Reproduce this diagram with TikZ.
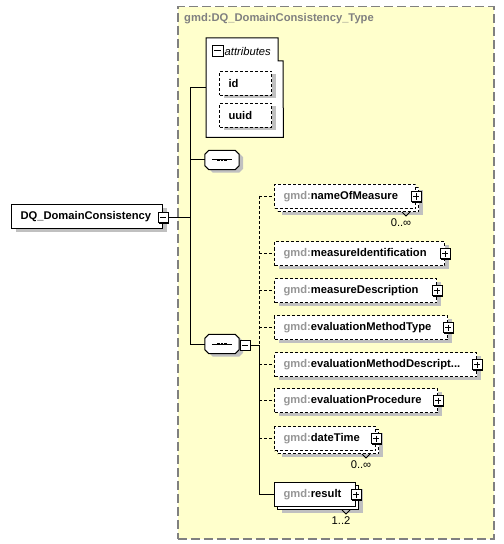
\documentclass[tikz,border=0pt]{standalone}
\usepackage{fontspec}
\setmainfont{Liberation Sans}
\usetikzlibrary{calc}
\definecolor{typeyellow}{RGB}{255,255,204}
\definecolor{gmdgray}{RGB}{150,150,150}
\definecolor{titlegray}{RGB}{128,128,128}
\definecolor{shadowgray}{RGB}{192,192,192}
\newcommand{\diafont}{\fontsize{11.2bp}{13bp}\selectfont}
\newcommand{\el}[1]{\mbox{{\color{gmdgray}gmd:}#1}}

\tikzset{
  link/.style={line width=1bp},
  optlink/.style={link, dash pattern=on 3bp off 2bp},
  boxshadow/.style={preaction={fill=shadowgray, draw=none, transform canvas={shift={(4bp,-3bp)}}}},
  elembase/.style={draw, fill=white, line width=1bp, anchor=north west, minimum height=24bp,
    inner xsep=9bp, inner ysep=0pt, align=left, font=\diafont\bfseries},
  elem/.style={elembase, boxshadow},
  optelem/.style={elem, dash pattern=on 3bp off 2bp},
  multi/.style={elembase,
    preaction={fill=shadowgray, draw=none, transform canvas={shift={(7bp,-6bp)}}},
    preaction={draw, fill=white, transform canvas={shift={(3bp,-3bp)}}}},
  optmulti/.style={multi, dash pattern=on 3bp off 2bp},
  pmbox/.style={draw, fill=white, line width=1bp, minimum size=10bp, inner sep=0pt,
    preaction={fill=black, draw=none, transform canvas={shift={(1bp,-1bp)}}}},
  minus/.style={pmbox, path picture={
    \draw[line width=1bp] ([xshift=2bp]path picture bounding box.west) -- ([xshift=-2bp]path picture bounding box.east);}},
  plus/.style={pmbox, path picture={
    \draw[line width=1bp] ([xshift=2bp]path picture bounding box.west) -- ([xshift=-2bp]path picture bounding box.east)
      ([yshift=-2bp]path picture bounding box.north) -- ([yshift=2bp]path picture bounding box.south);}},
  seqbox/.style={minimum width=34bp, minimum height=19bp, inner sep=0pt},
  octagon/.style={insert path={([xshift=4bp]#1.north west) -- ([xshift=-4bp]#1.north east) -- ([yshift=-4bp]#1.north east)
    -- ([yshift=4bp]#1.south east) -- ([xshift=-4bp]#1.south east) -- ([xshift=4bp]#1.south west)
    -- ([yshift=4bp]#1.south west) -- ([yshift=-4bp]#1.north west) -- cycle}},
  typebox/.style={draw=titlegray, fill=typeyellow, line width=1.5bp, dash pattern=on 9bp off 4bp,
    anchor=north west, inner sep=0pt},
  occ/.style={font=\diafont, inner sep=0pt},
  vnotch/.style={line width=1bp}
}

\begin{document}
\begin{tikzpicture}[x=1bp,y=-1bp]
  \useasboundingbox (0,0) rectangle (504,544);
  % complex type frame
  \node[typebox, minimum width=316bp, minimum height=532bp] (type) at (177,6) {};
  \node[anchor=west, text=titlegray, font=\diafont\bfseries, inner sep=0pt] (typeT) at ($(type.north west)+(7,13)$) {gmd:DQ\_DomainConsistency\_Type};

  % root element
  \node[elem, minimum width=151bp, text width=133bp] (dq) at (11,204) {\mbox{DQ\_DomainConsistency}};
  \node[minus] (dqM) at ($(dq.east)+(0,1)$) {};

  % attributes
  \node[anchor=north west, minimum width=77bp, minimum height=99bp, inner sep=0pt] (attr) at (206,38) {};
  \draw[link, fill=white] (attr.north west) -- ++(72,0) -- ++(0,23) -- ++(5,0) -- (attr.south east) -- (attr.south west) -- cycle;
  \node[minus, minimum size=11bp] (attrM) at ($(attr.north west)+(11.5,13)$) {};
  \node[anchor=west, font=\diafont\itshape, inner xsep=1bp] (attrT) at (attrM.east) {attributes};
  \node[optelem, minimum width=52bp, text width=34bp] (id) at (219,71) {id};
  \node[optelem, minimum width=52bp, text width=34bp] (uuid) at (219,103) {uuid};

  % sequences
  \node[seqbox] (seq1) at (222,160) {};
  \node[seqbox] (seq2) at (222,344) {};
  \foreach \s in {seq1,seq2} {
    \fill[shadowgray, transform canvas={shift={(4bp,-3bp)}}] [octagon=\s];
    \draw[link, fill=white] [octagon=\s];
    \draw[link] ([xshift=7bp]\s.west) -- ([xshift=-7bp]\s.east);
    \foreach \d in {-3.6,0,3.6}
      \fill ([xshift=\d bp]\s.center) +(-1.3bp,-1.3bp) rectangle +(1.3bp,1.3bp);
  }
  \node[minus] (seq2M) at ($(seq2.east)+(6,1)$) {};

  % child elements
  \node[optmulti, minimum width=141bp, text width=123bp] (nom) at (274,184) {\el{nameOfMeasure}};
  \node[optelem, minimum width=170bp, text width=152bp] (mid) at (274,241) {\el{measureIdentification}};
  \node[optelem, minimum width=162bp, text width=144bp] (mde) at (274,278) {\el{measureDescription}};
  \node[optelem, minimum width=173bp, text width=155bp] (emt) at (274,315) {\el{evaluationMethodType}};
  \node[optelem, minimum width=202bp, text width=184bp] (emd) at (274,352) {\el{evaluationMethodDescript...}};
  \node[optelem, minimum width=163bp, text width=145bp] (epr) at (274,388) {\el{evaluationProcedure}};
  \node[optmulti, minimum width=101bp, text width=83bp] (dtm) at (274,426) {\el{dateTime}};
  \node[multi, minimum width=81bp, text width=63bp] (res) at (274,482) {\el{result}};

  \node[plus] (nomP) at (nom.east) {};
  \node[plus] (midP) at (mid.east) {};
  \node[plus] (mdeP) at (mde.east) {};
  \node[plus] (emtP) at (emt.east) {};
  \node[plus] (emdP) at (emd.east) {};
  \node[plus] (eprP) at (epr.east) {};
  \node[plus] (dtmP) at (dtm.east) {};
  \node[plus] (resP) at (res.east) {};

  % occurrences
  \node[occ] (nomO) at ($(nom.south east)+(-15,14)$) {0..∞};
  \node[occ] (dtmO) at ($(dtm.south east)+(-15,14)$) {0..∞};
  \node[occ] (resO) at ($(res.south east)+(-15,14)$) {1..2};
  \draw[vnotch] ($(nom.south east)+(-14,3)$) -- ++(4,4) -- ++(4,-4);
  \draw[vnotch] ($(dtm.south east)+(-14,3)$) -- ++(4,4) -- ++(4,-4);
  \draw[vnotch] ($(res.south east)+(-14,3)$) -- ++(4,4) -- ++(4,-4);

  % connectors
  \coordinate (trA) at (190,88);
  \coordinate (trB) at (190,344);
  \draw[link] (dqM.east) -- (dqM.east -| trA);
  \draw[link] (trA) -- (attr.west |- trA);
  \draw[link] (trA) -- (trB) -- (seq2.west);
  \draw[link] (seq1.west -| trA) -- (seq1.west);

  \coordinate (chA) at (259,196);
  \coordinate (chB) at (259,345);
  \draw[link] (seq2M.east) -- (chB) -- (chB |- res.west) -- (res.west);
  \draw[optlink] (chA) -- (chB);
  \draw[optlink] (nom.west -| chA) -- (nom.west);
  \draw[optlink] (mid.west -| chA) -- (mid.west);
  \draw[optlink] (mde.west -| chA) -- (mde.west);
  \draw[optlink] (emt.west -| chA) -- (emt.west);
  \draw[optlink] (emd.west -| chA) -- (emd.west);
  \draw[optlink] (epr.west -| chA) -- (epr.west);
  \draw[optlink] (dtm.west -| chA) -- (dtm.west);
\end{tikzpicture}
\end{document}
